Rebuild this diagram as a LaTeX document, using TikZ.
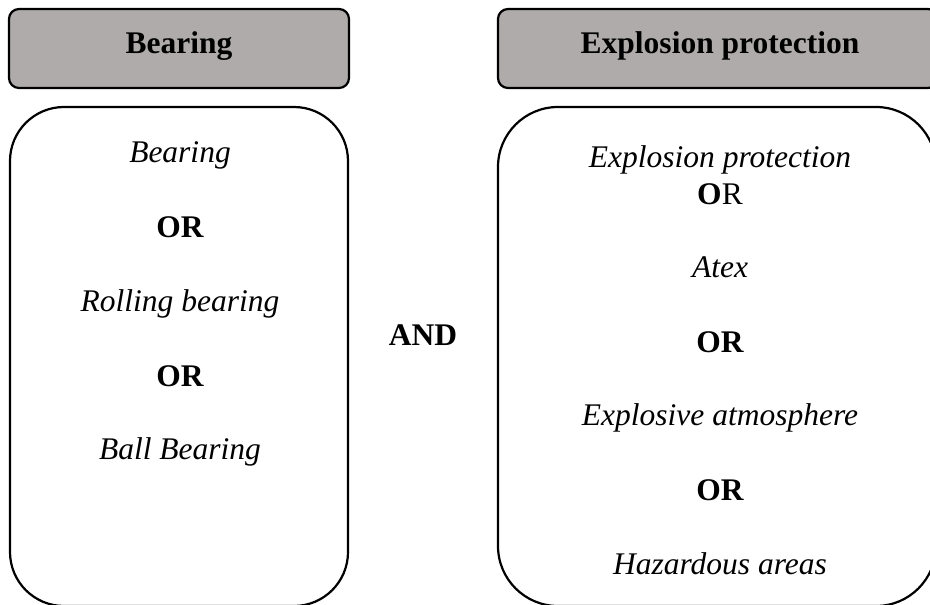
\documentclass[tikz,border=0pt]{standalone}
\usepackage{fontspec}
\setmainfont{Liberation Serif}
\definecolor{hdrgray}{RGB}{175,171,171}
\begin{document}
\begin{tikzpicture}[x=1pt,y=-1pt,
  box/.style={draw=black,line width=2.2pt,inner sep=0pt,outer sep=0pt},
  hdr/.style={box,fill=hdrgray,rounded corners=10pt,minimum height=79pt},
  txt/.style={anchor=base,inner sep=0pt,font=\fontsize{31.5}{36}\selectfont},
  itx/.style={txt,font=\fontsize{31.5}{36}\selectfont\itshape},
  btx/.style={txt,font=\fontsize{31.5}{36}\selectfont\bfseries}]
\useasboundingbox (0,0) rectangle (930,605);
\clip (0,0) rectangle (930,605);
% headers
\node[hdr,minimum width=340pt] (hdrL) at (179,48.5) {};
\node[hdr,minimum width=440pt] (hdrR) at (718,48.5) {};
\node[btx] (hdrLt) at (179,53) {Bearing};
\node[btx] (hdrRt) at (720,53) {Explosion protection};
% big boxes
\node[box,rounded corners=54pt,minimum width=338pt,minimum height=499pt] (boxL) at (179,356.5) {};
\node[box,rounded corners=60pt,minimum width=438pt,minimum height=499pt] (boxR) at (717,356.5) {};
% left texts
\node[itx] (l1) at (180,162) {Bearing};
\node[btx] (l2) at (180,237) {OR};
\node[itx] (l3) at (180,311) {Rolling bearing};
\node[btx] (l4) at (180,386) {OR};
\node[itx] (l5) at (180,459) {Ball Bearing};
% AND
\node[btx] (and) at (423,345) {AND};
% right texts
\node[itx] (r1) at (720,167) {Explosion protection};
\node[txt] (r2) at (720,204) {\textbf{O}R};
\node[itx] (r3) at (720,277) {Atex};
\node[btx] (r4) at (720,352) {OR};
\node[itx] (r5) at (720,425) {Explosive atmosphere};
\node[btx] (r6) at (720,500) {OR};
\node[itx] (r7) at (720,574) {Hazardous areas};
\end{tikzpicture}
\end{document}
